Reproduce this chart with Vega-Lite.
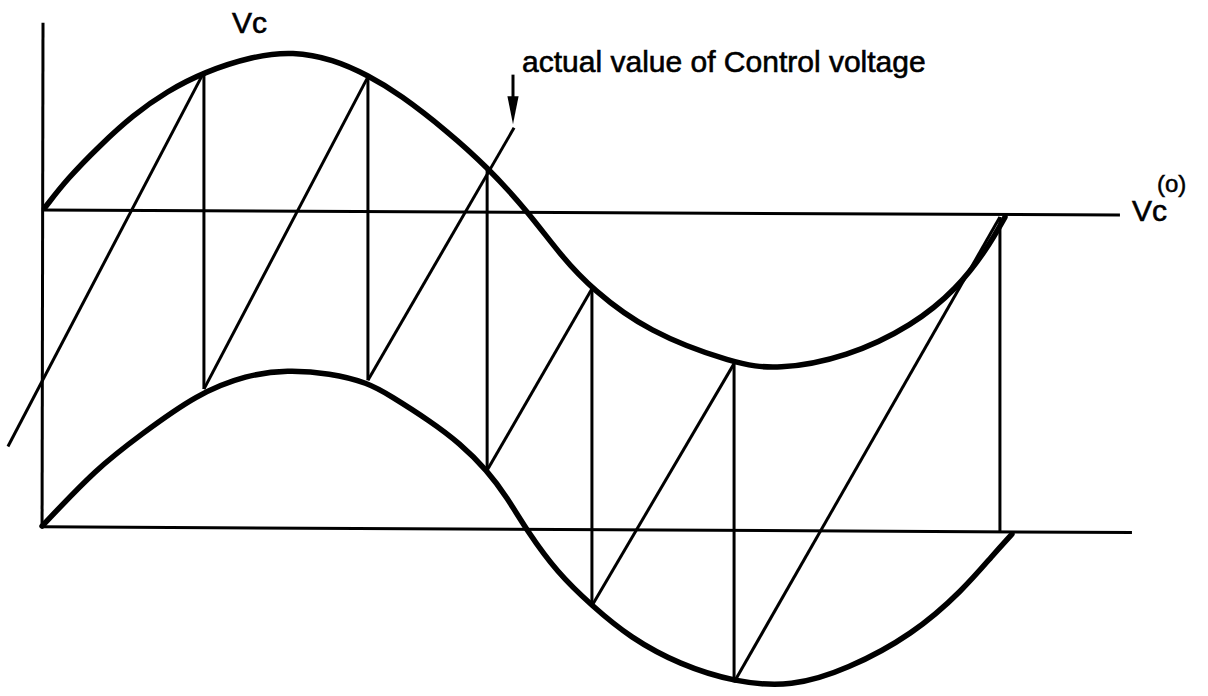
{
  "$schema": "https://vega.github.io/schema/vega-lite/v6.json",
  "width": 1208,
  "height": 696,
  "autosize": {"type": "fit", "contains": "padding"},
  "padding": 0,
  "background": "white",
  "config": {"view": {"stroke": null}},
  "datasets": {
    "segments": [
      {"seg": "axis", "ord": 0, "t": -0.75, "v": 3.17},
      {"seg": "axis", "ord": 1, "t": -1.1, "v": 0.006},
      {"seg": "vco", "ord": 0, "t": -1.1, "v": 1.994},
      {"seg": "vco", "ord": 1, "t": 403.1, "v": 1.9625},
      {"seg": "base", "ord": 0, "t": -1.1, "v": 0.006},
      {"seg": "base", "ord": 1, "t": 407.6, "v": -0.03},
      {"seg": "v1", "ord": 0, "t": 59.6, "v": 2.86},
      {"seg": "v1", "ord": 1, "t": 59.6, "v": 0.87},
      {"seg": "v2", "ord": 0, "t": 121.1, "v": 2.83},
      {"seg": "v2", "ord": 1, "t": 121.1, "v": 0.925},
      {"seg": "v3", "ord": 0, "t": 165.8, "v": 2.26},
      {"seg": "v3", "ord": 1, "t": 165.8, "v": 0.36},
      {"seg": "v4", "ord": 0, "t": 205.1, "v": 1.5},
      {"seg": "v4", "ord": 1, "t": 205.1, "v": -0.49},
      {"seg": "v5", "ord": 0, "t": 258.4, "v": 1.03},
      {"seg": "v5", "ord": 1, "t": 258.4, "v": -0.97},
      {"seg": "v6", "ord": 0, "t": 358.1, "v": 1.95},
      {"seg": "v6", "ord": 1, "t": 358.1, "v": -0.03},
      {"seg": "d1", "ord": 0, "t": -13.9, "v": 0.51},
      {"seg": "d1", "ord": 1, "t": 59.6, "v": 2.86},
      {"seg": "d2", "ord": 0, "t": 59.6, "v": 0.87},
      {"seg": "d2", "ord": 1, "t": 121.1, "v": 2.83},
      {"seg": "d3", "ord": 0, "t": 121.1, "v": 0.925},
      {"seg": "d3", "ord": 1, "t": 175.9, "v": 2.51},
      {"seg": "d4", "ord": 0, "t": 165.8, "v": 0.36},
      {"seg": "d4", "ord": 1, "t": 205.1, "v": 1.5},
      {"seg": "d5", "ord": 0, "t": 205.1, "v": -0.49},
      {"seg": "d5", "ord": 1, "t": 258.4, "v": 1.03},
      {"seg": "d6", "ord": 0, "t": 258.4, "v": -0.97},
      {"seg": "d6", "ord": 1, "t": 358.1, "v": 1.95},
      {"seg": "arrow", "ord": 0, "t": 175.5, "v": 2.844},
      {"seg": "arrow", "ord": 1, "t": 175.5, "v": 2.66}
    ],
    "curves": [
      {"curve": "upper", "t": 0, "v": 2.01},
      {"curve": "upper", "t": 8.3, "v": 2.19},
      {"curve": "upper", "t": 20.6, "v": 2.40},
      {"curve": "upper", "t": 33, "v": 2.59},
      {"curve": "upper", "t": 45.8, "v": 2.74},
      {"curve": "upper", "t": 59.6, "v": 2.86},
      {"curve": "upper", "t": 78, "v": 2.96},
      {"curve": "upper", "t": 93, "v": 2.99},
      {"curve": "upper", "t": 108, "v": 2.94},
      {"curve": "upper", "t": 121.1, "v": 2.84},
      {"curve": "upper", "t": 133.1, "v": 2.72},
      {"curve": "upper", "t": 150.8, "v": 2.49},
      {"curve": "upper", "t": 166.1, "v": 2.26},
      {"curve": "upper", "t": 180.8, "v": 1.99},
      {"curve": "upper", "t": 194.3, "v": 1.69},
      {"curve": "upper", "t": 205.1, "v": 1.5},
      {"curve": "upper", "t": 225.8, "v": 1.23},
      {"curve": "upper", "t": 258.4, "v": 1.03},
      {"curve": "upper", "t": 274.5, "v": 0.99},
      {"curve": "upper", "t": 300.8, "v": 1.07},
      {"curve": "upper", "t": 325.5, "v": 1.27},
      {"curve": "upper", "t": 342, "v": 1.5},
      {"curve": "upper", "t": 353.3, "v": 1.75},
      {"curve": "upper", "t": 360, "v": 1.95},
      {"curve": "lower", "t": -1.1, "v": 0.01},
      {"curve": "lower", "t": 19.5, "v": 0.375},
      {"curve": "lower", "t": 35.6, "v": 0.58},
      {"curve": "lower", "t": 57, "v": 0.84},
      {"curve": "lower", "t": 75.8, "v": 0.96},
      {"curve": "lower", "t": 90.8, "v": 0.99},
      {"curve": "lower", "t": 106.9, "v": 0.97},
      {"curve": "lower", "t": 121.1, "v": 0.91},
      {"curve": "lower", "t": 129.4, "v": 0.83},
      {"curve": "lower", "t": 144.4, "v": 0.67},
      {"curve": "lower", "t": 155.6, "v": 0.53},
      {"curve": "lower", "t": 165.8, "v": 0.36},
      {"curve": "lower", "t": 173.3, "v": 0.19},
      {"curve": "lower", "t": 180.8, "v": -0.02},
      {"curve": "lower", "t": 192, "v": -0.28},
      {"curve": "lower", "t": 205.1, "v": -0.49},
      {"curve": "lower", "t": 219.4, "v": -0.69},
      {"curve": "lower", "t": 238.1, "v": -0.86},
      {"curve": "lower", "t": 258.8, "v": -0.97},
      {"curve": "lower", "t": 280, "v": -1.0},
      {"curve": "lower", "t": 300.8, "v": -0.89},
      {"curve": "lower", "t": 325.5, "v": -0.67},
      {"curve": "lower", "t": 344.3, "v": -0.39},
      {"curve": "lower", "t": 355.5, "v": -0.17},
      {"curve": "lower", "t": 362.6, "v": -0.04}
    ],
    "labels": [
      {"label": "Vc", "t": 70.1, "v": 3.106, "size": "big"},
      {"label": "actual value of Control voltage", "t": 178.9, "v": 2.8625, "size": "big"},
      {"label": "Vc", "t": 407.6, "v": 1.925, "size": "big"},
      {"label": "(o)", "t": 417.0, "v": 2.106, "size": "small"}
    ],
    "heads": [
      {"t": 175.5, "v": 2.62}
    ]
  },
  "encoding": {
    "x": {"field": "t", "type": "quantitative", "axis": null,
          "scale": {"domain": [-16.875, 436.125], "nice": false, "zero": false}},
    "y": {"field": "v", "type": "quantitative", "axis": null,
          "scale": {"domain": [-1.0375, 3.3125], "nice": false, "zero": false}}
  },
  "layer": [
    {
      "data": {"name": "segments"},
      "mark": {"type": "line", "color": "black", "strokeWidth": 3, "strokeCap": "butt"},
      "encoding": {
        "detail": {"field": "seg", "type": "nominal"},
        "order": {"field": "ord", "type": "quantitative"}
      }
    },
    {
      "data": {"name": "curves"},
      "mark": {"type": "line", "color": "black", "strokeWidth": 5.5, "interpolate": "basis", "strokeCap": "round"},
      "encoding": {
        "detail": {"field": "curve", "type": "nominal"}
      }
    },
    {
      "data": {"name": "heads"},
      "mark": {"type": "point", "shape": "M -0.4 -1 L 0.4 -1 L 0 1 Z", "size": 784, "filled": true, "color": "black", "opacity": 1}
    },
    {
      "data": {"name": "labels"},
      "transform": [{"filter": "datum.size == 'big'"}],
      "mark": {"type": "text", "align": "left", "baseline": "alphabetic", "font": "Liberation Sans", "fontSize": 30, "color": "black", "stroke": "black", "strokeWidth": 0.6},
      "encoding": {"text": {"field": "label", "type": "nominal"}}
    },
    {
      "data": {"name": "labels"},
      "transform": [{"filter": "datum.size == 'small'"}],
      "mark": {"type": "text", "align": "left", "baseline": "alphabetic", "font": "Liberation Sans", "fontSize": 24, "color": "black", "stroke": "black", "strokeWidth": 0.5},
      "encoding": {"text": {"field": "label", "type": "nominal"}}
    }
  ]
}
